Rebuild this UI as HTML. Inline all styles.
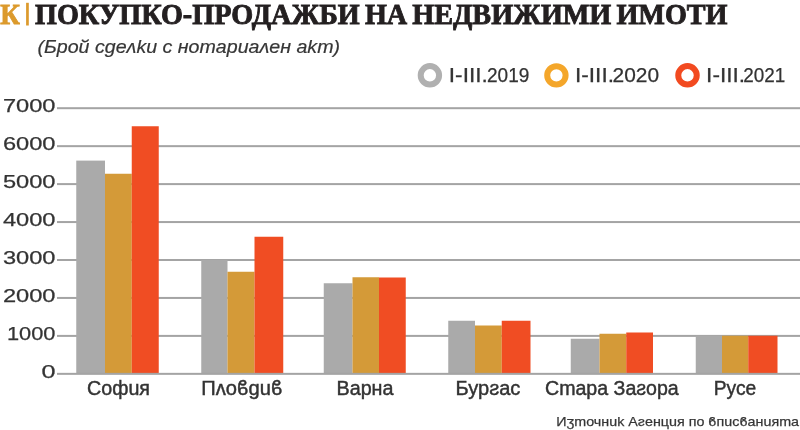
<!DOCTYPE html>
<html><head><meta charset="utf-8"><style>
html,body{margin:0;padding:0;background:#fff;width:800px;height:430px;overflow:hidden}
svg{display:block;will-change:transform}
text{font-family:"Liberation Sans",sans-serif;fill:#333;stroke:#333;stroke-width:0.25px}
.ax{font-size:18.5px}
.cat{font-size:20px;stroke-width:0.45px}
.leg{font-size:20px}
.ttl{font-family:"Liberation Serif",serif;font-weight:bold;font-size:29.8px;word-spacing:-2px;fill:#231f20;stroke:#231f20;stroke-width:0.9px}
.k{font-family:"Liberation Serif",serif;font-weight:bold;font-size:29.5px;fill:#dc9a2c;stroke:#dc9a2c;stroke-width:0.9px}
.sub{font-style:italic;font-size:17.5px;fill:#363636;stroke:#363636;stroke-width:0.2px}
.src{font-size:13.6px;fill:#363636;stroke:#363636;stroke-width:0.25px}
</style></head><body>
<svg width="800" height="430" viewBox="0 0 800 430">
<text class="k" x="0.2" y="23.9" textLength="19.6" lengthAdjust="spacingAndGlyphs">К</text>
<rect x="26.1" y="2.8" width="2.7" height="22.7" fill="#dc9a2c"/>
<text class="ttl" x="35" y="23.75" textLength="692.5" lengthAdjust="spacingAndGlyphs">ПОКУПКО-ПРОДАЖБИ НА НЕДВИЖИМИ ИМОТИ</text>
<text class="sub" x="37.5" y="53.25" textLength="302.5" lengthAdjust="spacingAndGlyphs">(Брой сgеʌku с нomapuaʌен akm)</text>
<circle cx="429.9" cy="75.3" r="9.2" fill="none" stroke="#b0b0b0" stroke-width="6"/>
<circle cx="556.4" cy="75.35" r="9.2" fill="none" stroke="#f4a62a" stroke-width="6"/>
<circle cx="687.5" cy="75.35" r="9.25" fill="none" stroke="#f24a20" stroke-width="6"/>
<text class="leg" x="448.8" y="81.8" textLength="39.0" lengthAdjust="spacingAndGlyphs">I-III.</text>
<text class="leg" x="487.0" y="81.8" textLength="42.3" lengthAdjust="spacingAndGlyphs">2019</text>
<text class="leg" x="575.0" y="81.8" textLength="39.0" lengthAdjust="spacingAndGlyphs">I-III.</text>
<text class="leg" x="612.6" y="81.8" textLength="46.5" lengthAdjust="spacingAndGlyphs">2020</text>
<text class="leg" x="706.1" y="81.8" textLength="39.0" lengthAdjust="spacingAndGlyphs">I-III.</text>
<text class="leg" x="743.2" y="81.8" textLength="42.0" lengthAdjust="spacingAndGlyphs">2021</text>
<rect x="57" y="107.20" width="743" height="2" fill="#a4a4a4"/>
<rect x="57" y="145.15" width="743" height="2" fill="#a4a4a4"/>
<rect x="57" y="183.10" width="743" height="2" fill="#a4a4a4"/>
<rect x="57" y="221.05" width="743" height="2" fill="#a4a4a4"/>
<rect x="57" y="259.00" width="743" height="2" fill="#a4a4a4"/>
<rect x="57" y="296.95" width="743" height="2" fill="#a4a4a4"/>
<rect x="57" y="334.90" width="743" height="2" fill="#a4a4a4"/>
<rect x="76.25" y="160.6" width="28.75" height="213.20" fill="#aaaaaa"/>
<rect x="105" y="173.75" width="26.75" height="200.05" fill="#d49a38"/>
<rect x="131.75" y="126.25" width="27.00" height="247.55" fill="#f04d23"/>
<rect x="201.25" y="260" width="26.25" height="113.80" fill="#aaaaaa"/>
<rect x="227.5" y="271.75" width="27.00" height="102.05" fill="#d49a38"/>
<rect x="254.5" y="236.75" width="28.75" height="137.05" fill="#f04d23"/>
<rect x="323.75" y="283.25" width="28.75" height="90.55" fill="#aaaaaa"/>
<rect x="352.5" y="277.25" width="26.50" height="96.55" fill="#d49a38"/>
<rect x="379" y="277.5" width="26.75" height="96.30" fill="#f04d23"/>
<rect x="448.25" y="320.75" width="26.75" height="53.05" fill="#aaaaaa"/>
<rect x="475" y="325.5" width="26.75" height="48.30" fill="#d49a38"/>
<rect x="501.75" y="320.75" width="28.75" height="53.05" fill="#f04d23"/>
<rect x="570.75" y="338.75" width="28.75" height="35.05" fill="#aaaaaa"/>
<rect x="599.5" y="333.75" width="26.75" height="40.05" fill="#d49a38"/>
<rect x="626.25" y="332.5" width="26.75" height="41.30" fill="#f04d23"/>
<rect x="695.75" y="335.75" width="26.25" height="38.05" fill="#aaaaaa"/>
<rect x="722" y="335.75" width="26.25" height="38.05" fill="#d49a38"/>
<rect x="748.25" y="335.75" width="29.25" height="38.05" fill="#f04d23"/>
<rect x="57" y="372.85" width="743" height="2" fill="#a4a4a4"/>
<text class="ax" x="55.5" y="112.20" text-anchor="end" textLength="52.6" lengthAdjust="spacingAndGlyphs">7000</text>
<text class="ax" x="55.5" y="150.15" text-anchor="end" textLength="52.6" lengthAdjust="spacingAndGlyphs">6000</text>
<text class="ax" x="55.5" y="188.10" text-anchor="end" textLength="52.6" lengthAdjust="spacingAndGlyphs">5000</text>
<text class="ax" x="55.5" y="226.05" text-anchor="end" textLength="52.6" lengthAdjust="spacingAndGlyphs">4000</text>
<text class="ax" x="55.5" y="264.00" text-anchor="end" textLength="52.6" lengthAdjust="spacingAndGlyphs">3000</text>
<text class="ax" x="55.5" y="301.95" text-anchor="end" textLength="52.6" lengthAdjust="spacingAndGlyphs">2000</text>
<text class="ax" x="55.5" y="339.90" text-anchor="end" textLength="48.5" lengthAdjust="spacingAndGlyphs">1000</text>
<text class="ax" x="55.5" y="377.85" text-anchor="end" textLength="14" lengthAdjust="spacingAndGlyphs">0</text>
<text class="cat" x="87" y="395.3" textLength="63" lengthAdjust="spacingAndGlyphs">Софuя</text>
<text class="cat" x="201.25" y="395.3" textLength="81.25" lengthAdjust="spacingAndGlyphs">Пʌоϐguϐ</text>
<text class="cat" x="336.5" y="395.3" textLength="57" lengthAdjust="spacingAndGlyphs">Варна</text>
<text class="cat" x="455.6" y="395.3" textLength="64.8" lengthAdjust="spacingAndGlyphs">Бурƨас</text>
<text class="cat" x="545" y="395.3" textLength="133.75" lengthAdjust="spacingAndGlyphs">Cmapa Заƨора</text>
<text class="cat" x="713.75" y="395.3" textLength="42.5" lengthAdjust="spacingAndGlyphs">Русе</text>
<text class="src" x="556.25" y="425.9" textLength="242.75" lengthAdjust="spacingAndGlyphs">Иʒmочнuk Аƨенцuя по ϐпuсϐанuяmа</text>
</svg>
</body></html>
